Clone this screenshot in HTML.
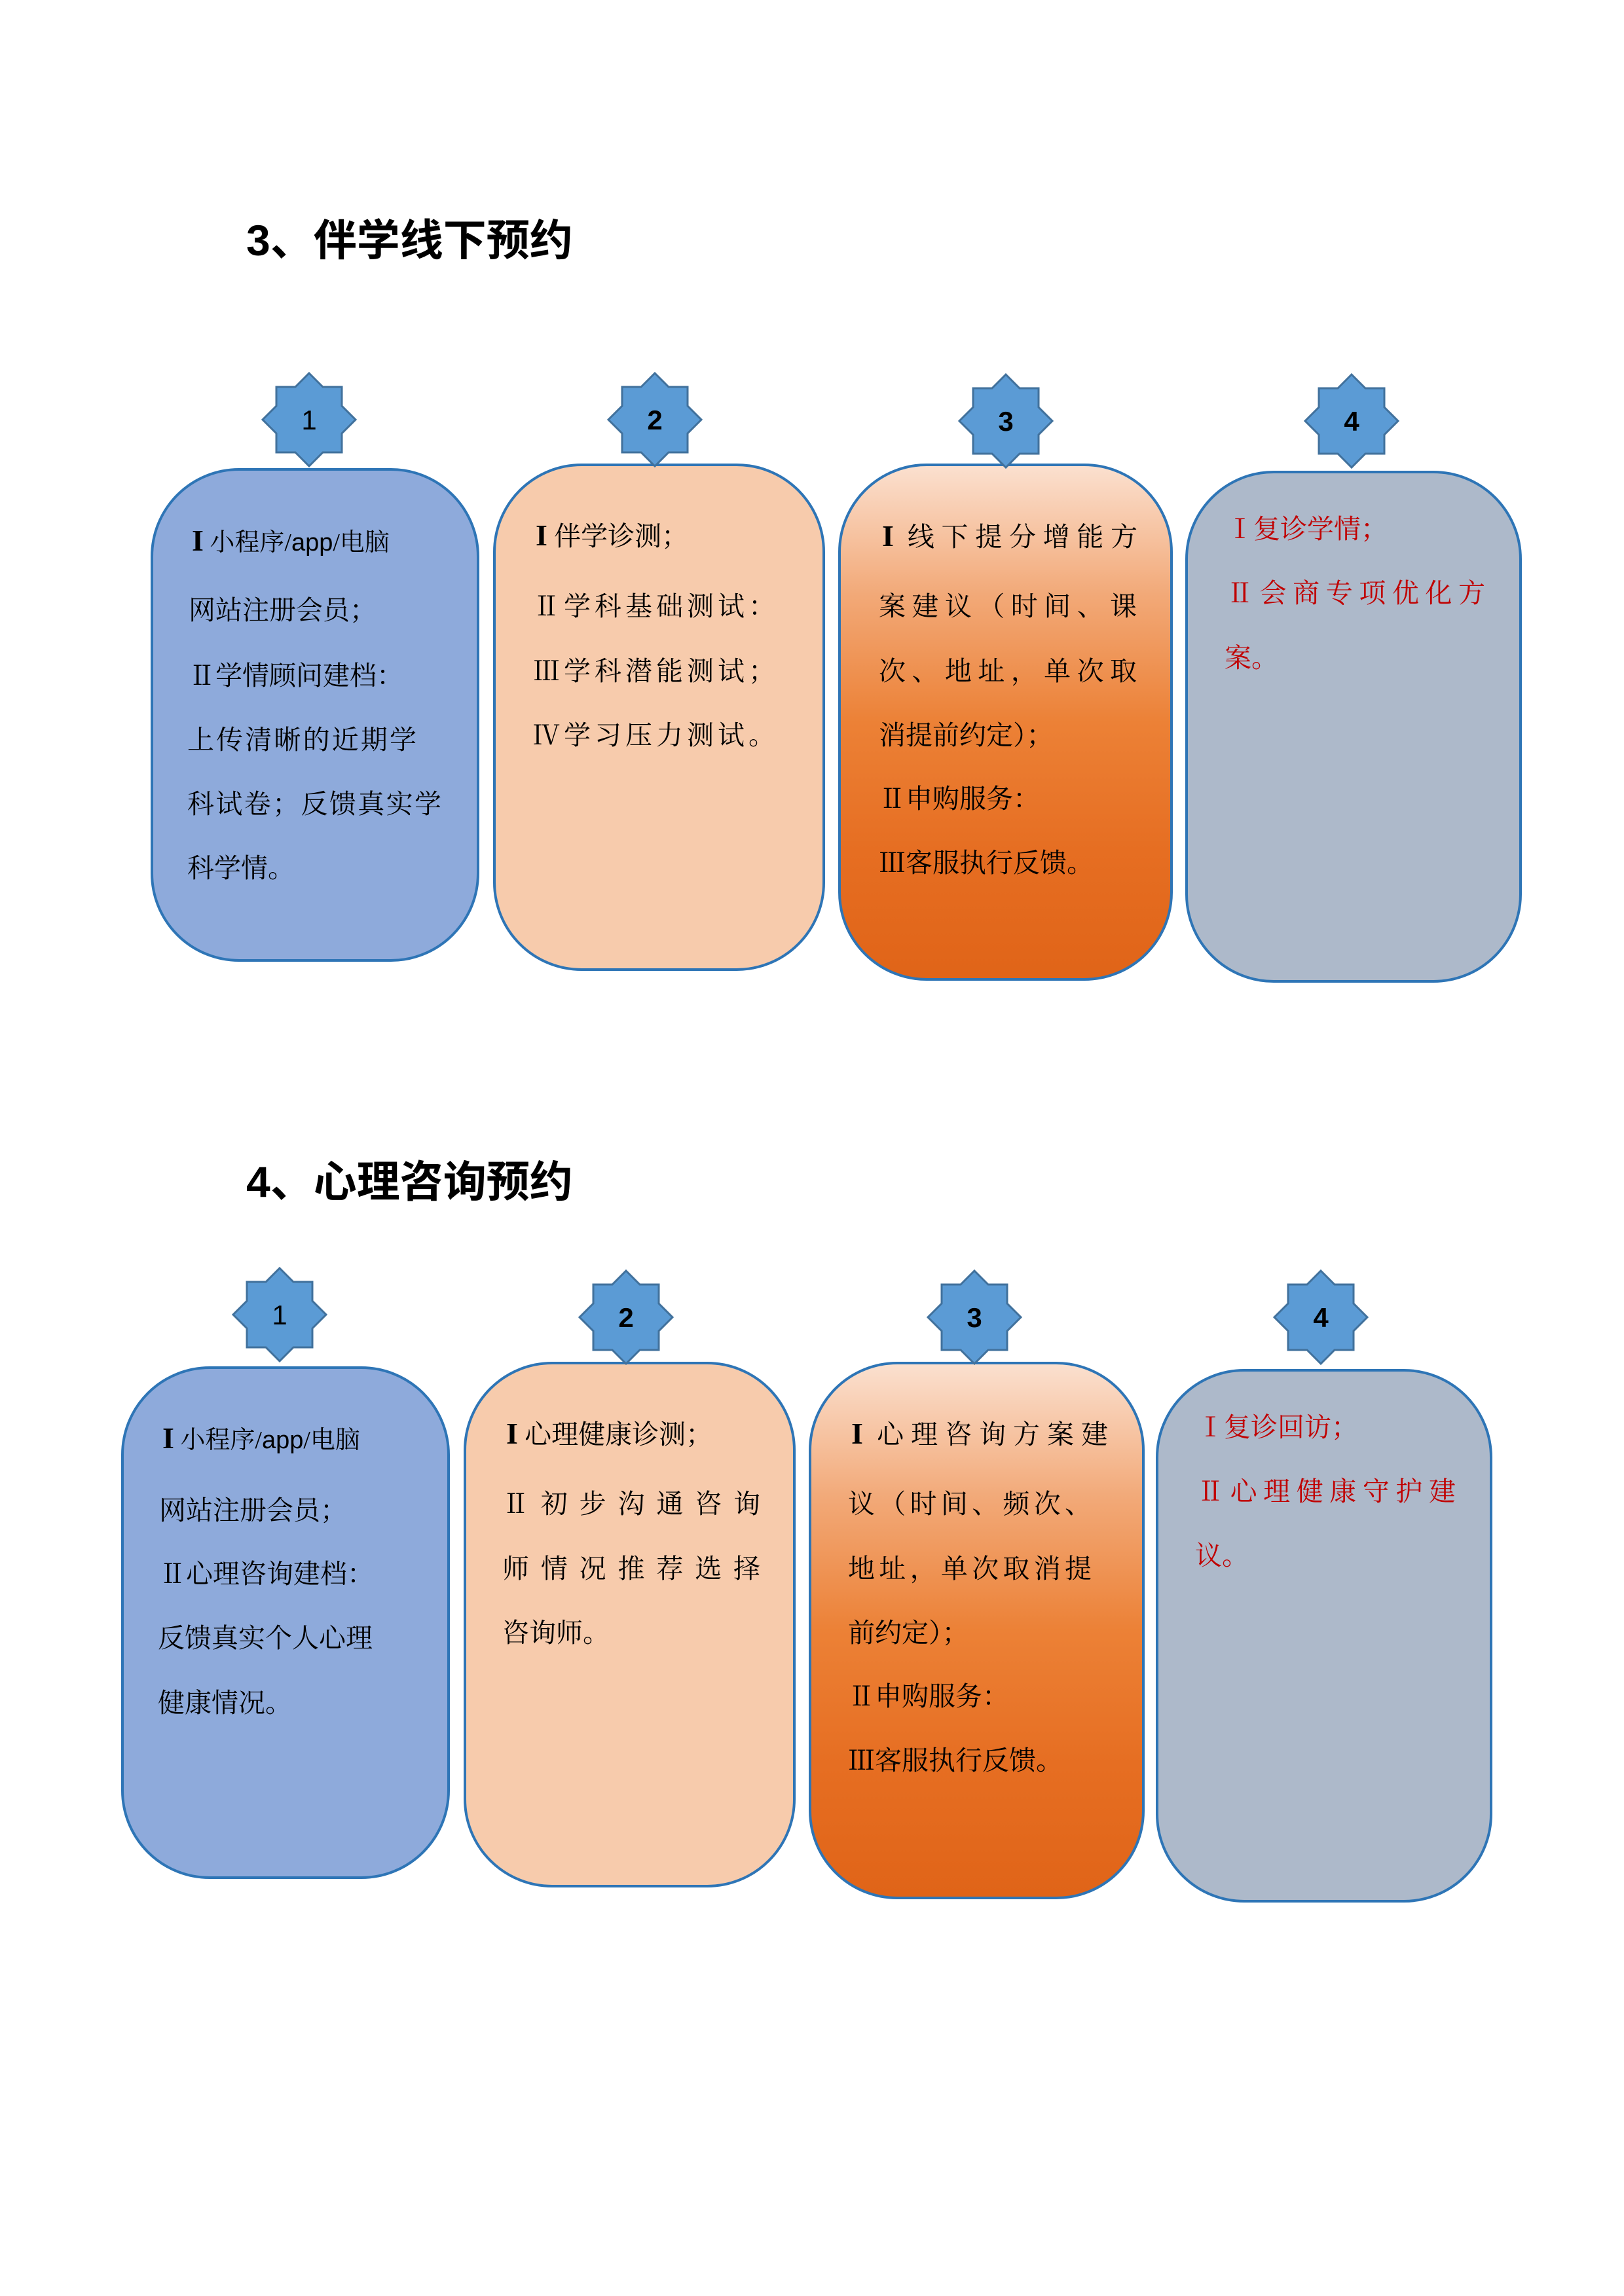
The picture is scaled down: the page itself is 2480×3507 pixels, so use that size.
<!DOCTYPE html>
<html><head><meta charset="utf-8"><style>
body{margin:0;width:2480px;height:3507px;background:#fff;position:relative;overflow:hidden;font-family:"Liberation Serif","Noto Serif CJK SC",serif;}
.t{position:absolute;font-family:"Liberation Sans","Noto Sans CJK SC",sans-serif;font-size:66px;font-weight:bold;color:#000;line-height:1;}
.b{position:absolute;border:4px solid #2e75b6;border-radius:135px;box-sizing:border-box;}
.blue{background:#8eaadb}.peach{background:#f7cbac}.gray{background:#adb9ca}
.or{background:linear-gradient(to bottom,#fbe0cf 0%,#f2a978 25%,#ec8136 50%,#e66e22 75%,#e06418 100%)}
.l{position:absolute;font-size:41px;line-height:1;white-space:nowrap;color:#000;font-weight:normal;}
.l .a{font-family:"Liberation Sans",sans-serif;}
.j{text-align:justify;text-align-last:justify;white-space:normal}
.r{color:#c00000}
.s{position:absolute;width:150px;height:150px}
</style></head><body>
<svg width="0" height="0" style="position:absolute"><defs><polygon id="st" points="75,4 96,25 125,25 125,54 146,75 125,96 125,125 96,125 75,146 54,125 25,125 25,96 4,75 25,54 25,25 54,25" fill="#5b9bd5" stroke="#41719c" stroke-width="3"/></defs></svg>

<div class="t" style="left:376px;top:334px">3、伴学线下预约</div>

<div class="b blue" style="left:230px;top:715px;width:502px;height:754px"></div>
<div class="b peach" style="left:753px;top:708px;width:507px;height:775px"></div>
<div class="b or" style="left:1280px;top:708px;width:511px;height:790px"></div>
<div class="b gray" style="left:1810px;top:719px;width:514px;height:782px"></div>

<svg class="s" style="left:397px;top:566px"><use href="#st"/><text x="75" y="90" text-anchor="middle" font-family="Liberation Sans" font-size="42" fill="#000">1</text></svg>
<svg class="s" style="left:925px;top:566px"><use href="#st"/><text x="75" y="90" text-anchor="middle" font-family="Liberation Sans" font-weight="bold" font-size="42" fill="#000">2</text></svg>
<svg class="s" style="left:1461px;top:568px"><use href="#st"/><text x="75" y="90" text-anchor="middle" font-family="Liberation Sans" font-weight="bold" font-size="42" fill="#000">3</text></svg>
<svg class="s" style="left:1989px;top:568px"><use href="#st"/><text x="75" y="90" text-anchor="middle" font-family="Liberation Sans" font-weight="bold" font-size="42" fill="#000">4</text></svg>

<div class="l" style="left:293px;top:803px;font-size:38px"><b style="font-size:46px">I</b> 小程序/<span class="a">app</span>/电脑</div>
<div class="l" style="left:288px;top:912px">网站注册会员；</div>
<div class="l" style="left:288px;top:1012px">Ⅱ学情顾问建档：</div>
<div class="l j" style="left:286px;top:1110px;width:350px">上传清晰的近期学</div>
<div class="l j" style="left:286px;top:1208px;width:388px">科试卷；反馈真实学</div>
<div class="l" style="left:286px;top:1306px">科学情。</div>

<div class="l" style="left:818px;top:795px"><b style="font-size:46px">I</b> 伴学诊测；</div>
<div class="l j" style="left:814px;top:906px;width:370px">Ⅱ学科基础测试：</div>
<div class="l j" style="left:814px;top:1005px;width:370px">Ⅲ学科潜能测试；</div>
<div class="l j" style="left:814px;top:1103px;width:370px">Ⅳ学习压力测试。</div>

<div class="l j" style="left:1347px;top:796px;width:390px"><b style="font-size:46px">I</b> 线下提分增能方</div>
<div class="l j" style="left:1342px;top:906px;width:394px">案建议（时间、课</div>
<div class="l j" style="left:1342px;top:1005px;width:394px">次、地址，单次取</div>
<div class="l" style="left:1342px;top:1103px">消提前约定）；</div>
<div class="l" style="left:1342px;top:1200px">Ⅱ申购服务：</div>
<div class="l" style="left:1342px;top:1298px">Ⅲ客服执行反馈。</div>

<div class="l r" style="left:1873px;top:788px">Ⅰ复诊学情；</div>
<div class="l r j" style="left:1873px;top:886px;width:395px">Ⅱ会商专项优化方</div>
<div class="l r" style="left:1870px;top:985px">案。</div>

<div class="t" style="left:376px;top:1772px">4、心理咨询预约</div>

<div class="b blue" style="left:185px;top:2087px;width:502px;height:783px"></div>
<div class="b peach" style="left:708px;top:2080px;width:507px;height:803px"></div>
<div class="b or" style="left:1235px;top:2080px;width:513px;height:821px"></div>
<div class="b gray" style="left:1765px;top:2091px;width:514px;height:815px"></div>

<svg class="s" style="left:352px;top:1933px"><use href="#st"/><text x="75" y="90" text-anchor="middle" font-family="Liberation Sans" font-size="42" fill="#000">1</text></svg>
<svg class="s" style="left:881px;top:1937px"><use href="#st"/><text x="75" y="90" text-anchor="middle" font-family="Liberation Sans" font-weight="bold" font-size="42" fill="#000">2</text></svg>
<svg class="s" style="left:1413px;top:1937px"><use href="#st"/><text x="75" y="90" text-anchor="middle" font-family="Liberation Sans" font-weight="bold" font-size="42" fill="#000">3</text></svg>
<svg class="s" style="left:1942px;top:1937px"><use href="#st"/><text x="75" y="90" text-anchor="middle" font-family="Liberation Sans" font-weight="bold" font-size="42" fill="#000">4</text></svg>

<div class="l" style="left:248px;top:2174px;font-size:38px"><b style="font-size:46px">I</b> 小程序/<span class="a">app</span>/电脑</div>
<div class="l" style="left:243px;top:2287px">网站注册会员；</div>
<div class="l" style="left:243px;top:2384px">Ⅱ心理咨询建档：</div>
<div class="l" style="left:241px;top:2482px">反馈真实个人心理</div>
<div class="l" style="left:241px;top:2581px">健康情况。</div>

<div class="l" style="left:773px;top:2167px"><b style="font-size:46px">I</b> 心理健康诊测；</div>
<div class="l j" style="left:767px;top:2277px;width:394px">Ⅱ初步沟通咨询</div>
<div class="l j" style="left:767px;top:2376px;width:394px">师情况推荐选择</div>
<div class="l" style="left:767px;top:2474px">咨询师。</div>

<div class="l j" style="left:1300px;top:2167px;width:392px"><b style="font-size:46px">I</b> 心理咨询方案建</div>
<div class="l j" style="left:1295px;top:2277px;width:372px">议（时间、频次、</div>
<div class="l j" style="left:1295px;top:2376px;width:372px">地址，单次取消提</div>
<div class="l" style="left:1295px;top:2474px">前约定）；</div>
<div class="l" style="left:1295px;top:2571px">Ⅱ申购服务：</div>
<div class="l" style="left:1295px;top:2669px">Ⅲ客服执行反馈。</div>

<div class="l r" style="left:1828px;top:2160px">Ⅰ复诊回访；</div>
<div class="l r j" style="left:1828px;top:2258px;width:395px">Ⅱ心理健康守护建</div>
<div class="l r" style="left:1825px;top:2356px">议。</div>
</body></html>
